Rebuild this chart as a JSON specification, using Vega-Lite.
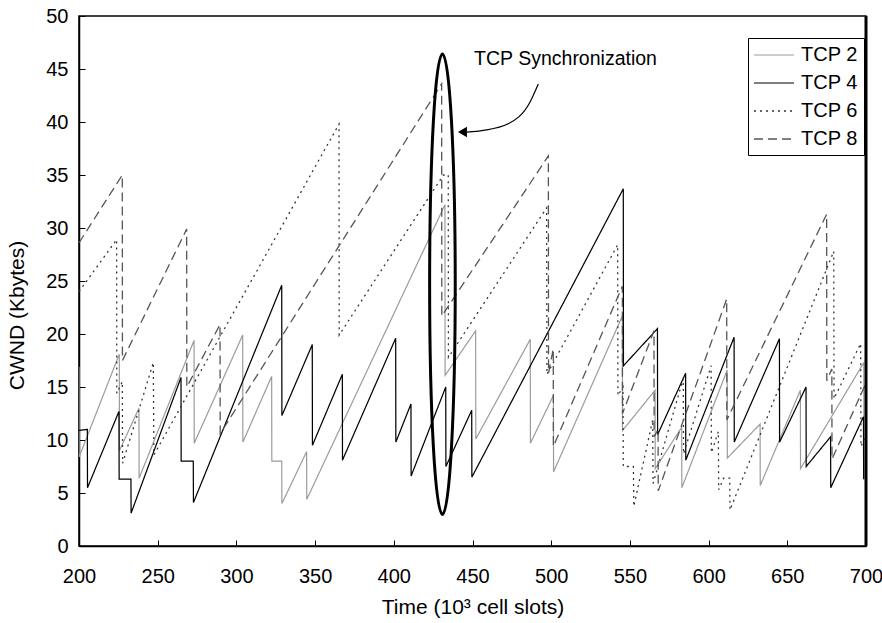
{
  "$schema": "https://vega.github.io/schema/vega-lite/v6.json",
  "autosize": "none",
  "width": 787,
  "height": 530,
  "padding": {"left": 79, "top": 16, "right": 16, "bottom": 77},
  "background": "white",
  "config": {
    "view": {"stroke": "black", "strokeWidth": 1.5},
    "font": "Liberation Sans",
    "axis": {
      "grid": false,
      "domainColor": "black",
      "domainWidth": 1.5,
      "tickColor": "black",
      "tickWidth": 1,
      "tickSize": -6,
      "labelFlush": false,
      "labelColor": "black",
      "titleColor": "black",
      "labelFont": "Liberation Sans",
      "titleFont": "Liberation Sans",
      "labelFontSize": 20,
      "titleFontSize": 21,
      "titleFontWeight": "normal"
    },
    "legend": {
      "orient": "none",
      "legendX": 669,
      "legendY": 22,
      "strokeColor": "black",
      "fillColor": "white",
      "padding": 6,
      "symbolType": "M-1.1,0H2.9",
      "symbolSize": 400,
      "symbolStrokeWidth": 1.5,
      "labelFont": "Liberation Sans",
      "labelFontSize": 20,
      "labelColor": "black",
      "labelOffset": 25,
      "rowPadding": 7
    }
  },
  "datasets": {
    "cwnd": [
      {"s": "TCP 2", "t": 200.0, "w": 16.9}, {"s": "TCP 2", "t": 200.1, "w": 8.4},
      {"s": "TCP 2", "t": 225.6, "w": 18.1}, {"s": "TCP 2", "t": 225.7, "w": 9.0},
      {"s": "TCP 2", "t": 238.1, "w": 13.0}, {"s": "TCP 2", "t": 238.2, "w": 6.4},
      {"s": "TCP 2", "t": 273.1, "w": 19.4}, {"s": "TCP 2", "t": 273.2, "w": 9.7},
      {"s": "TCP 2", "t": 304.0, "w": 19.9}, {"s": "TCP 2", "t": 304.1, "w": 9.8},
      {"s": "TCP 2", "t": 322.4, "w": 16.0}, {"s": "TCP 2", "t": 322.5, "w": 8.0},
      {"s": "TCP 2", "t": 328.8, "w": 8.0}, {"s": "TCP 2", "t": 328.9, "w": 4.0},
      {"s": "TCP 2", "t": 344.6, "w": 8.9}, {"s": "TCP 2", "t": 344.7, "w": 4.4},
      {"s": "TCP 2", "t": 432.5, "w": 32.2}, {"s": "TCP 2", "t": 432.6, "w": 16.1},
      {"s": "TCP 2", "t": 452.0, "w": 20.3}, {"s": "TCP 2", "t": 452.1, "w": 10.1},
      {"s": "TCP 2", "t": 486.7, "w": 19.5}, {"s": "TCP 2", "t": 486.8, "w": 9.7},
      {"s": "TCP 2", "t": 501.4, "w": 14.2}, {"s": "TCP 2", "t": 501.5, "w": 7.0},
      {"s": "TCP 2", "t": 545.2, "w": 21.7}, {"s": "TCP 2", "t": 545.3, "w": 10.9},
      {"s": "TCP 2", "t": 566.0, "w": 14.7}, {"s": "TCP 2", "t": 566.1, "w": 7.3},
      {"s": "TCP 2", "t": 582.9, "w": 11.2}, {"s": "TCP 2", "t": 583.0, "w": 5.5},
      {"s": "TCP 2", "t": 611.8, "w": 16.6}, {"s": "TCP 2", "t": 611.9, "w": 8.3},
      {"s": "TCP 2", "t": 632.7, "w": 11.5}, {"s": "TCP 2", "t": 632.8, "w": 5.7},
      {"s": "TCP 2", "t": 658.3, "w": 14.7}, {"s": "TCP 2", "t": 658.4, "w": 7.3},
      {"s": "TCP 2", "t": 698.6, "w": 17.3}, {"s": "TCP 2", "t": 698.7, "w": 6.3},

      {"s": "TCP 4", "t": 200.0, "w": 10.9}, {"s": "TCP 4", "t": 205.3, "w": 11.0},
      {"s": "TCP 4", "t": 205.4, "w": 5.5}, {"s": "TCP 4", "t": 225.4, "w": 12.7},
      {"s": "TCP 4", "t": 225.5, "w": 6.3}, {"s": "TCP 4", "t": 233.0, "w": 6.3},
      {"s": "TCP 4", "t": 233.1, "w": 3.1}, {"s": "TCP 4", "t": 264.8, "w": 15.9},
      {"s": "TCP 4", "t": 264.9, "w": 8.0}, {"s": "TCP 4", "t": 272.6, "w": 8.0},
      {"s": "TCP 4", "t": 272.7, "w": 4.1}, {"s": "TCP 4", "t": 328.8, "w": 24.6},
      {"s": "TCP 4", "t": 328.9, "w": 12.3}, {"s": "TCP 4", "t": 348.2, "w": 19.0},
      {"s": "TCP 4", "t": 348.3, "w": 9.5}, {"s": "TCP 4", "t": 367.3, "w": 16.2},
      {"s": "TCP 4", "t": 367.4, "w": 8.1}, {"s": "TCP 4", "t": 401.2, "w": 19.6},
      {"s": "TCP 4", "t": 401.3, "w": 9.8}, {"s": "TCP 4", "t": 410.9, "w": 13.4},
      {"s": "TCP 4", "t": 411.0, "w": 6.6}, {"s": "TCP 4", "t": 433.0, "w": 15.0},
      {"s": "TCP 4", "t": 433.1, "w": 7.5}, {"s": "TCP 4", "t": 449.5, "w": 12.8},
      {"s": "TCP 4", "t": 449.6, "w": 6.5}, {"s": "TCP 4", "t": 545.8, "w": 33.7},
      {"s": "TCP 4", "t": 545.9, "w": 17.0}, {"s": "TCP 4", "t": 567.5, "w": 20.5},
      {"s": "TCP 4", "t": 567.6, "w": 10.5}, {"s": "TCP 4", "t": 585.4, "w": 16.3},
      {"s": "TCP 4", "t": 585.5, "w": 8.1}, {"s": "TCP 4", "t": 616.2, "w": 19.7},
      {"s": "TCP 4", "t": 616.3, "w": 9.8}, {"s": "TCP 4", "t": 645.0, "w": 19.55},
      {"s": "TCP 4", "t": 645.1, "w": 9.8}, {"s": "TCP 4", "t": 661.9, "w": 15.0},
      {"s": "TCP 4", "t": 662.0, "w": 7.5}, {"s": "TCP 4", "t": 677.5, "w": 10.3},
      {"s": "TCP 4", "t": 677.6, "w": 5.5}, {"s": "TCP 4", "t": 698.4, "w": 12.2},
      {"s": "TCP 4", "t": 698.5, "w": 6.3},

      {"s": "TCP 6", "t": 200.0, "w": 24.0}, {"s": "TCP 6", "t": 223.9, "w": 28.9},
      {"s": "TCP 6", "t": 224.0, "w": 14.4}, {"s": "TCP 6", "t": 227.5, "w": 15.5},
      {"s": "TCP 6", "t": 227.7, "w": 7.8}, {"s": "TCP 6", "t": 247.2, "w": 17.3},
      {"s": "TCP 6", "t": 247.6, "w": 8.6}, {"s": "TCP 6", "t": 365.2, "w": 39.8},
      {"s": "TCP 6", "t": 365.3, "w": 19.9}, {"s": "TCP 6", "t": 431.5, "w": 35.0},
      {"s": "TCP 6", "t": 434.6, "w": 35.0}, {"s": "TCP 6", "t": 434.7, "w": 17.8},
      {"s": "TCP 6", "t": 497.1, "w": 31.9}, {"s": "TCP 6", "t": 497.3, "w": 16.2},
      {"s": "TCP 6", "t": 542.2, "w": 28.4}, {"s": "TCP 6", "t": 542.4, "w": 14.2},
      {"s": "TCP 6", "t": 545.6, "w": 15.0}, {"s": "TCP 6", "t": 545.8, "w": 7.5},
      {"s": "TCP 6", "t": 552.2, "w": 7.5}, {"s": "TCP 6", "t": 552.5, "w": 3.75},
      {"s": "TCP 6", "t": 564.5, "w": 11.9}, {"s": "TCP 6", "t": 564.7, "w": 5.9},
      {"s": "TCP 6", "t": 583.9, "w": 15.8}, {"s": "TCP 6", "t": 584.1, "w": 8.7},
      {"s": "TCP 6", "t": 601.6, "w": 17.0}, {"s": "TCP 6", "t": 601.8, "w": 8.8},
      {"s": "TCP 6", "t": 606.2, "w": 10.8}, {"s": "TCP 6", "t": 606.4, "w": 5.3},
      {"s": "TCP 6", "t": 609.5, "w": 6.4}, {"s": "TCP 6", "t": 613.4, "w": 6.4},
      {"s": "TCP 6", "t": 613.6, "w": 3.4}, {"s": "TCP 6", "t": 679.5, "w": 27.8},
      {"s": "TCP 6", "t": 679.7, "w": 13.9}, {"s": "TCP 6", "t": 696.6, "w": 19.1},
      {"s": "TCP 6", "t": 696.8, "w": 9.4}, {"s": "TCP 6", "t": 699.8, "w": 10.3},

      {"s": "TCP 8", "t": 200.0, "w": 28.6}, {"s": "TCP 8", "t": 227.5, "w": 35.0},
      {"s": "TCP 8", "t": 227.6, "w": 17.5}, {"s": "TCP 8", "t": 268.4, "w": 29.9},
      {"s": "TCP 8", "t": 268.5, "w": 15.0}, {"s": "TCP 8", "t": 289.6, "w": 20.9},
      {"s": "TCP 8", "t": 289.7, "w": 10.6}, {"s": "TCP 8", "t": 430.4, "w": 43.6},
      {"s": "TCP 8", "t": 430.5, "w": 21.7}, {"s": "TCP 8", "t": 498.2, "w": 36.8},
      {"s": "TCP 8", "t": 498.3, "w": 16.3}, {"s": "TCP 8", "t": 501.3, "w": 18.6},
      {"s": "TCP 8", "t": 501.4, "w": 9.4}, {"s": "TCP 8", "t": 545.2, "w": 24.5},
      {"s": "TCP 8", "t": 545.3, "w": 12.5}, {"s": "TCP 8", "t": 565.3, "w": 20.3},
      {"s": "TCP 8", "t": 565.4, "w": 10.3}, {"s": "TCP 8", "t": 567.9, "w": 11.0},
      {"s": "TCP 8", "t": 568.0, "w": 5.2}, {"s": "TCP 8", "t": 611.5, "w": 23.3},
      {"s": "TCP 8", "t": 611.6, "w": 11.9}, {"s": "TCP 8", "t": 675.0, "w": 31.3},
      {"s": "TCP 8", "t": 675.1, "w": 15.6}, {"s": "TCP 8", "t": 678.3, "w": 16.7},
      {"s": "TCP 8", "t": 678.4, "w": 8.2}, {"s": "TCP 8", "t": 699.5, "w": 15.2}
    ],
    "callout": [
      {"t": 446.5, "w": 39.05}, {"t": 456.9, "w": 39.21}, {"t": 472.7, "w": 39.83},
      {"t": 486.5, "w": 41.86}, {"t": 491.8, "w": 43.58}
    ]
  },
  "layer": [
    {
      "data": {"name": "cwnd"},
      "mark": {"type": "line", "strokeCap": "butt", "strokeJoin": "miter", "clip": true},
      "encoding": {
        "x": {
          "field": "t", "type": "quantitative",
          "scale": {"domain": [200, 700], "nice": false, "zero": false},
          "axis": {
            "values": [200, 250, 300, 350, 400, 450, 500, 550, 600, 650, 700],
            "labelPadding": 26,
            "title": "Time (10³ cell slots)",
            "titleX": 393.5, "titleY": 61, "titleAlign": "center", "titleBaseline": "middle"
          }
        },
        "y": {
          "field": "w", "type": "quantitative",
          "scale": {"domain": [0, 50], "nice": false},
          "axis": {
            "values": [0, 5, 10, 15, 20, 25, 30, 35, 40, 45, 50],
            "labelPadding": 17,
            "title": "CWND (Kbytes)",
            "titleX": -62, "titleY": 299, "titleAngle": 270, "titleAlign": "center", "titleBaseline": "middle"
          }
        },
        "color": {
          "field": "s", "type": "nominal",
          "scale": {"domain": ["TCP 2", "TCP 4", "TCP 6", "TCP 8"], "range": ["#9b9b9b", "#000000", "#333333", "#555555"]},
          "legend": {"title": null}
        },
        "strokeDash": {
          "field": "s", "type": "nominal",
          "scale": {"domain": ["TCP 2", "TCP 4", "TCP 6", "TCP 8"], "range": [[1, 0], [1, 0], [2, 4], [9, 5]]},
          "legend": {"title": null}
        },
        "strokeWidth": {
          "field": "s", "type": "nominal",
          "scale": {"domain": ["TCP 2", "TCP 4", "TCP 6", "TCP 8"], "range": [1.2, 1.3, 2, 1.5]},
          "legend": null
        }
      }
    },
    {
      "data": {"values": [{"t": 700}]},
      "mark": {"type": "rule", "color": "black", "strokeWidth": 3},
      "encoding": {"x": {"field": "t", "type": "quantitative"}}
    },
    {
      "data": {"values": [{"t": 430.9, "w": 24.7}]},
      "mark": {
        "type": "point",
        "shape": "M0,-1A0.0556,1,0,1,1,0,1A0.0556,1,0,1,1,0,-1Z",
        "size": 212150,
        "filled": false,
        "stroke": "black",
        "strokeWidth": 3,
        "opacity": 1
      },
      "encoding": {
        "x": {"field": "t", "type": "quantitative"},
        "y": {"field": "w", "type": "quantitative"}
      }
    },
    {
      "data": {"name": "callout"},
      "mark": {"type": "line", "interpolate": "monotone", "color": "black", "strokeWidth": 1.2},
      "encoding": {
        "x": {"field": "t", "type": "quantitative"},
        "y": {"field": "w", "type": "quantitative"}
      }
    },
    {
      "data": {"values": [{"t": 443.6, "w": 39.05}]},
      "mark": {"type": "point", "shape": "triangle-left", "size": 110, "filled": true, "color": "black", "opacity": 1},
      "encoding": {
        "x": {"field": "t", "type": "quantitative"},
        "y": {"field": "w", "type": "quantitative"}
      }
    },
    {
      "data": {"values": [{"t": 509.1, "w": 45.9, "label": "TCP Synchronization"}]},
      "mark": {"type": "text", "font": "Liberation Sans", "fontSize": 19.5, "align": "center", "baseline": "middle", "color": "black"},
      "encoding": {
        "x": {"field": "t", "type": "quantitative"},
        "y": {"field": "w", "type": "quantitative"},
        "text": {"field": "label"}
      }
    }
  ]
}
